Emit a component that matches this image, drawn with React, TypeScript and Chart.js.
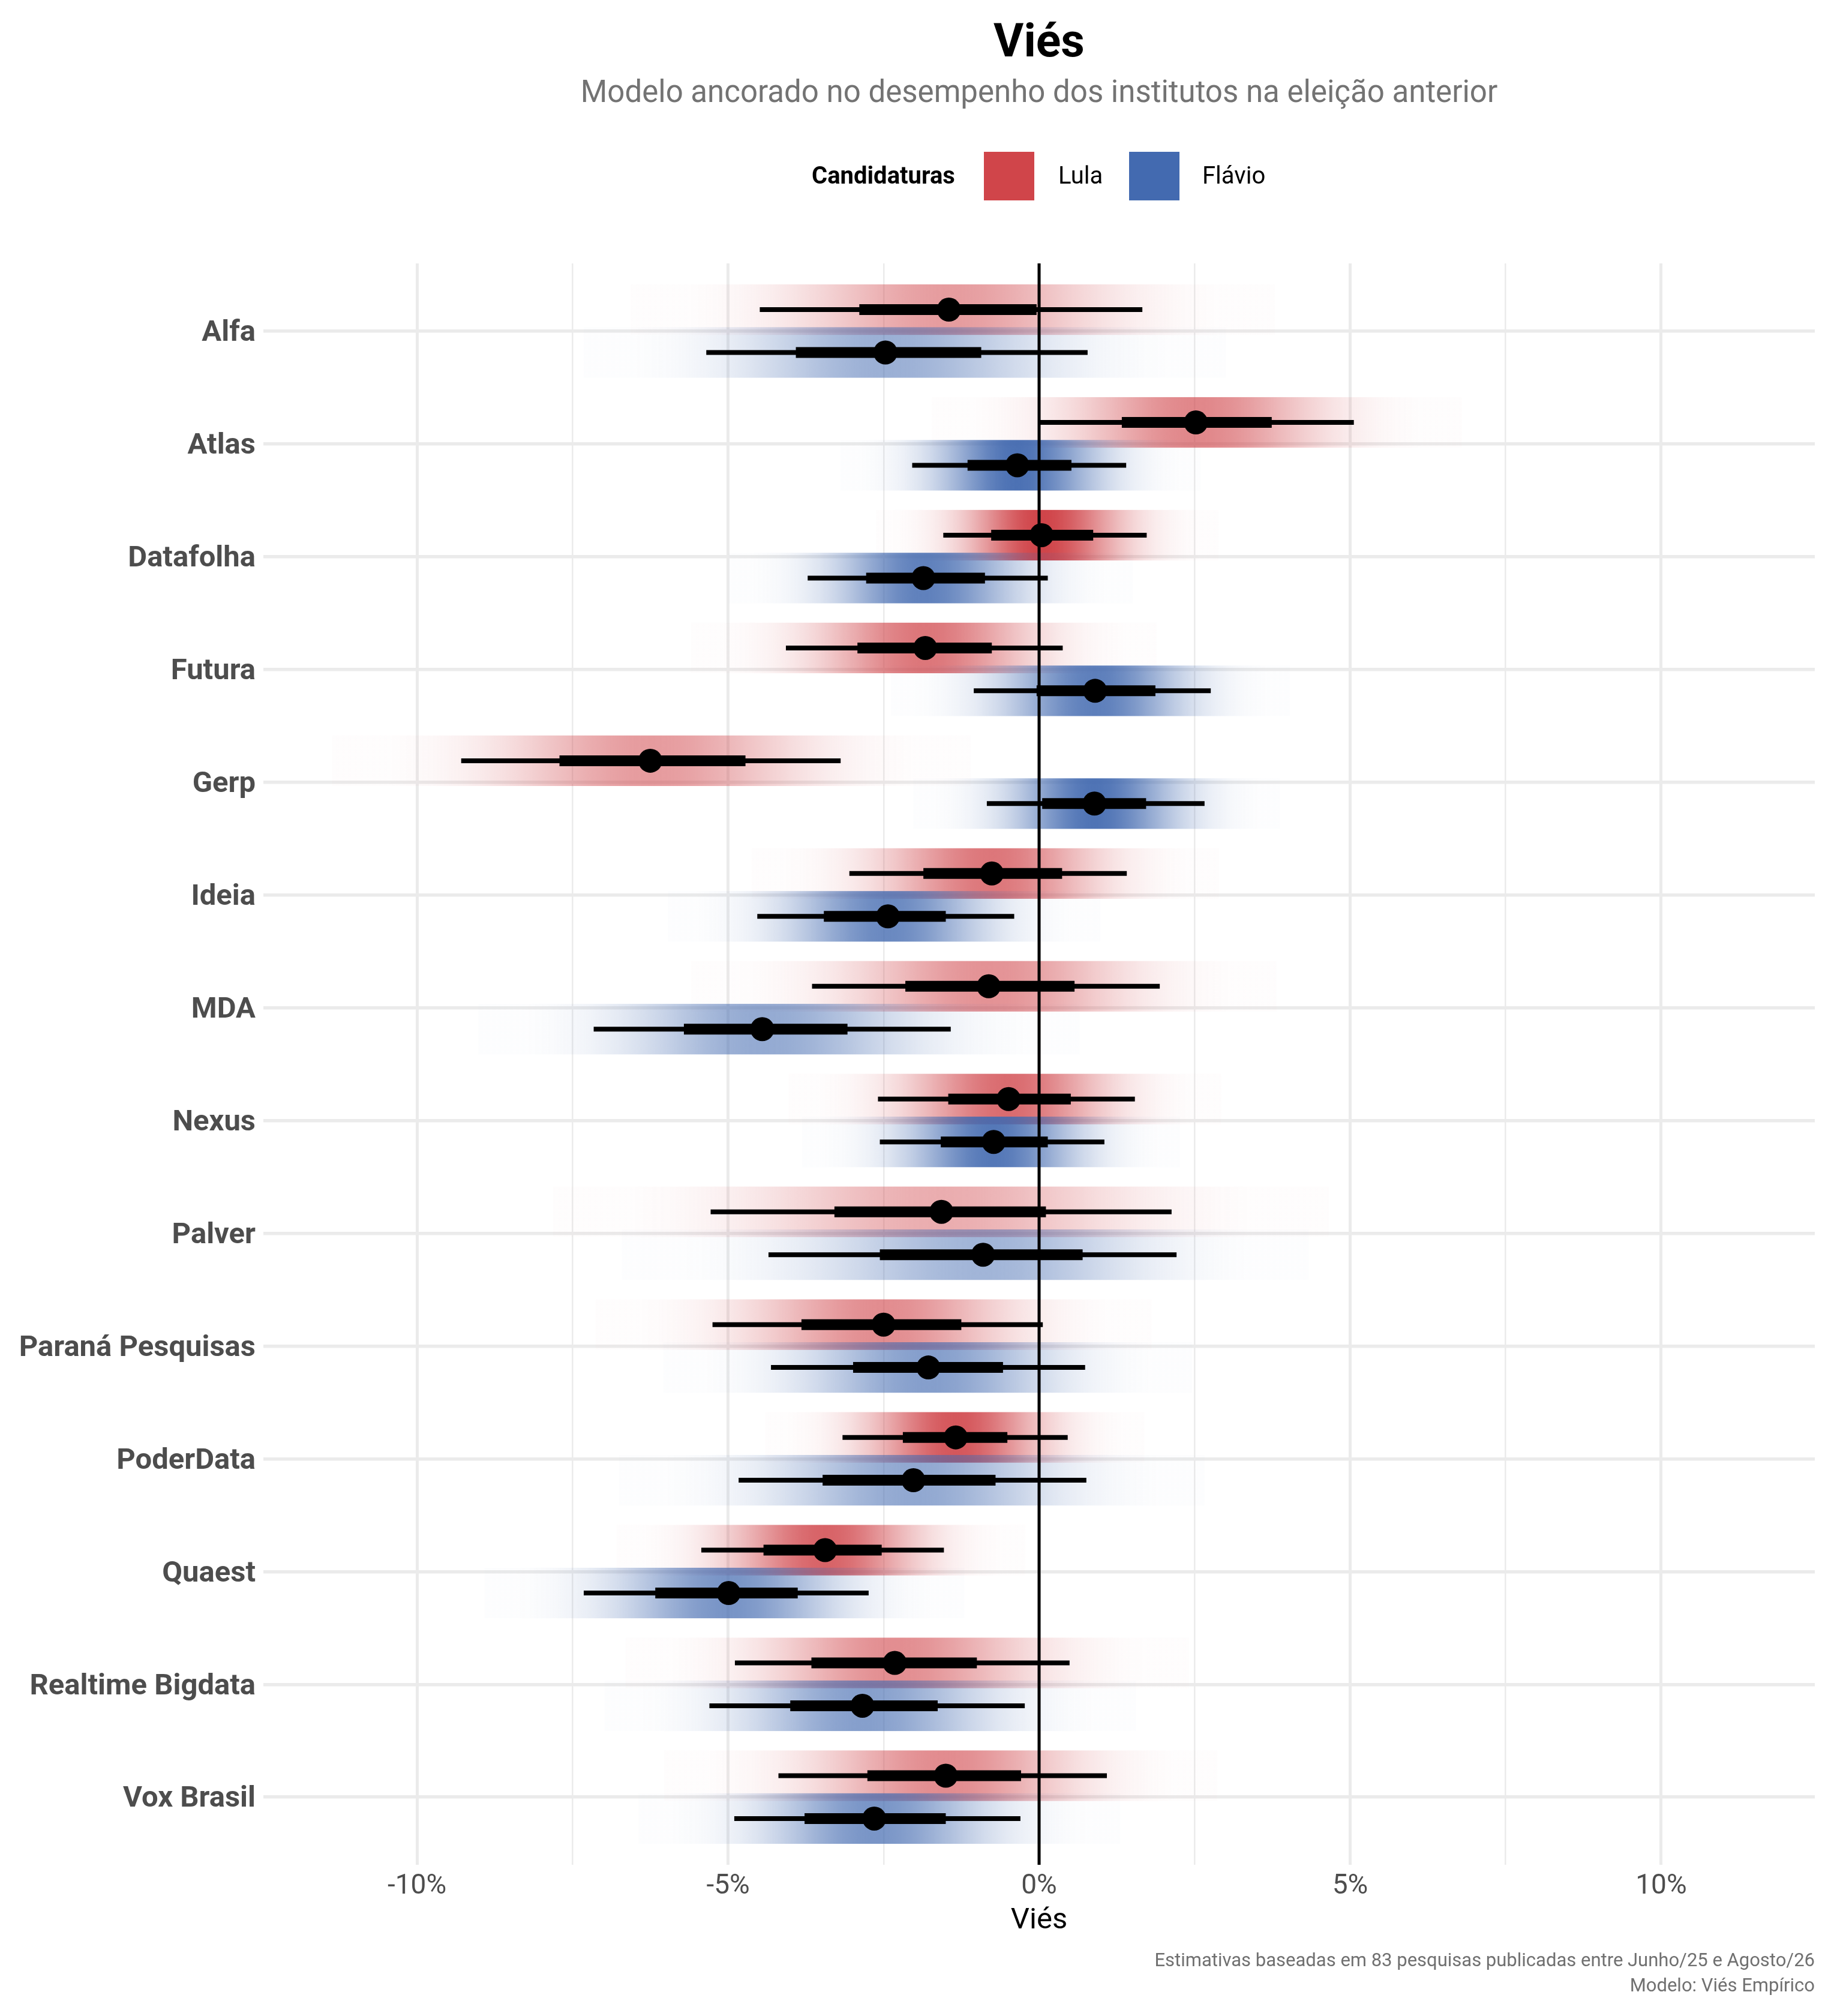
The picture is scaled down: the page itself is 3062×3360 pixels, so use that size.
import React, { useEffect, useRef } from 'react';
import { Chart, registerables } from 'chart.js';

Chart.register(...registerables);

// ---------------- DATA ----------------
const institutes = [
  'Alfa', 'Atlas', 'Datafolha', 'Futura', 'Gerp', 'Ideia', 'MDA', 'Nexus',
  'Palver', 'Paraná Pesquisas', 'PoderData', 'Quaest', 'Realtime Bigdata', 'Vox Brasil',
];

// Lula: point estimate, 66% interval, 95% interval (in %)
const lulaEst = [-1.45, 2.52, 0.04, -1.83, -6.25, -0.76, -0.81, -0.49, -1.57, -2.50, -1.34, -3.44, -2.32, -1.50];
const lulaLo66 = [-2.89, 1.33, -0.77, -2.92, -7.71, -1.86, -2.15, -1.46, -3.29, -3.82, -2.19, -4.43, -3.66, -2.76];
const lulaHi66 = [-0.04, 3.74, 0.87, -0.76, -4.72, 0.37, 0.57, 0.51, 0.11, -1.25, -0.51, -2.53, -1.00, -0.29];
const lulaLo95 = [-4.49, 0.0, -1.54, -4.07, -9.29, -3.05, -3.65, -2.59, -5.28, -5.25, -3.16, -5.43, -4.89, -4.19];
const lulaHi95 = [1.66, 5.06, 1.73, 0.38, -3.19, 1.41, 1.94, 1.54, 2.13, 0.06, 0.46, -1.53, 0.49, 1.09];

// Flávio: point estimate, 66% interval, 95% interval (in %)
const flavioEst = [-2.47, -0.35, -1.86, 0.90, 0.89, -2.43, -4.45, -0.73, -0.90, -1.78, -2.02, -4.99, -2.84, -2.65];
const flavioLo66 = [-3.91, -1.15, -2.78, -0.04, 0.05, -3.46, -5.71, -1.58, -2.56, -2.99, -3.48, -6.17, -4.00, -3.77];
const flavioHi66 = [-0.93, 0.52, -0.87, 1.87, 1.72, -1.50, -3.08, 0.14, 0.70, -0.58, -0.70, -3.88, -1.63, -1.50];
const flavioLo95 = [-5.35, -2.04, -3.72, -1.05, -0.84, -4.53, -7.16, -2.56, -4.35, -4.31, -4.83, -7.32, -5.30, -4.90];
const flavioHi95 = [0.78, 1.40, 0.14, 2.76, 2.66, -0.40, -1.42, 1.05, 2.21, 0.74, 0.76, -2.74, -0.23, -0.30];

const candidates = ['Lula', 'Flávio'];
const xTickValues = [-10, -7.5, -5, -2.5, 0, 2.5, 5, 7.5, 10];

const titleText = 'Viés';
const subtitleText = 'Modelo ancorado no desempenho dos institutos na eleição anterior';
const legendTitle = 'Candidaturas';
const xAxisTitle = 'Viés';
const captionLines = [
  'Estimativas baseadas em 83 pesquisas publicadas entre Junho/25 e Agosto/26',
  'Modelo: Viés Empírico',
];

// ---------------- STYLE / LAYOUT ----------------
const W = 3062;
const H = 3360;
const FONT = 'Roboto, "Open Sans", "DejaVu Sans", sans-serif';
const RGB: [number, number, number][] = [
  [208, 69, 74],
  [67, 106, 176],
];
const OFFSETS = [-0.19, 0.19];
const BAND_HALF = 0.224;

type Series = {
  est: number[];
  lo66: number[];
  hi66: number[];
  lo95: number[];
  hi95: number[];
};

const series: Series[] = [
  { est: lulaEst, lo66: lulaLo66, hi66: lulaHi66, lo95: lulaLo95, hi95: lulaHi95 },
  { est: flavioEst, lo66: flavioLo66, hi66: flavioHi66, lo95: flavioLo95, hi95: flavioHi95 },
];

const bandPlugin = {
  id: 'gradientBands',
  beforeDatasetsDraw(chart: any) {
    const { ctx, chartArea, scales } = chart;
    const xs = scales.x;
    const ys = scales.y;
    ctx.save();
    ctx.beginPath();
    ctx.rect(chartArea.left, chartArea.top, chartArea.right - chartArea.left, chartArea.bottom - chartArea.top);
    ctx.clip();
    let minWidth = Infinity;
    series.forEach((s) => s.est.forEach((_, i) => {
      minWidth = Math.min(minWidth, s.hi95[i] - s.lo95[i]);
    }));
    series.forEach((s, si) => {
      const [r, g, b] = RGB[si];
      s.est.forEach((e, i) => {
        const sdL = (e - s.lo95[i]) / 1.96;
        const sdR = (s.hi95[i] - e) / 1.96;
        const peak = minWidth / (s.hi95[i] - s.lo95[i]);
        const v0 = e - 3.3 * sdL;
        const v1 = e + 3.3 * sdR;
        const p0 = xs.getPixelForValue(v0);
        const p1 = xs.getPixelForValue(v1);
        const ya = ys.getPixelForValue(i + OFFSETS[si] - BAND_HALF);
        const yb = ys.getPixelForValue(i + OFFSETS[si] + BAND_HALF);
        const grad = ctx.createLinearGradient(p0, 0, p1, 0);
        const N = 90;
        for (let k = 0; k <= N; k++) {
          const v = v0 + ((v1 - v0) * k) / N;
          const z = v < e ? (v - e) / sdL : (v - e) / sdR;
          let a = peak * Math.exp(-0.5 * z * z);
          a = Math.max(a, 0.01);
          grad.addColorStop(k / N, `rgba(${r},${g},${b},${a.toFixed(4)})`);
        }
        ctx.fillStyle = grad;
        ctx.fillRect(p0, Math.min(ya, yb), p1 - p0, Math.abs(yb - ya));
      });
    });
    ctx.restore();
  },
};

const textPlugin = {
  id: 'texts',
  afterDraw(chart: any) {
    const { ctx, chartArea } = chart;
    const cx = (chartArea.left + chartArea.right) / 2;
    ctx.save();
    ctx.textAlign = 'center';
    ctx.textBaseline = 'alphabetic';
    ctx.fillStyle = '#000000';
    ctx.font = `bold 77px ${FONT}`;
    ctx.fillText(titleText, cx, 94);
    ctx.fillStyle = '#737373';
    ctx.font = `51px ${FONT}`;
    ctx.fillText(subtitleText, cx, 170);

    // legend
    const boxTop = 253;
    const boxH = 81;
    const midY = boxTop + boxH / 2;
    ctx.textBaseline = 'middle';
    ctx.textAlign = 'left';
    ctx.fillStyle = '#000000';
    ctx.font = `bold 40px ${FONT}`;
    ctx.fillText(legendTitle, 1353, midY + 2);
    const boxX = [1640, 1882];
    const labelX = [1764, 2004];
    candidates.forEach((c, k) => {
      const [r, g, b] = RGB[k];
      ctx.fillStyle = `rgb(${r},${g},${b})`;
      ctx.fillRect(boxX[k], boxTop, 84, boxH);
      ctx.fillStyle = '#000000';
      ctx.font = `40px ${FONT}`;
      ctx.fillText(c, labelX[k], midY + 2);
    });

    // axis title
    ctx.textAlign = 'center';
    ctx.textBaseline = 'alphabetic';
    ctx.fillStyle = '#000000';
    ctx.font = `49px ${FONT}`;
    ctx.fillText(xAxisTitle, cx, 3214);

    // caption
    ctx.textAlign = 'right';
    ctx.fillStyle = '#707070';
    ctx.font = `31px ${FONT}`;
    ctx.fillText(captionLines[0], chartArea.right, 3277);
    ctx.fillText(captionLines[1], chartArea.right, 3319);
    ctx.restore();
  },
};

function buildDatasets() {
  const ds: any[] = [];
  const pts: { x: number; y: number }[] = [];
  series.forEach((s, si) => s.est.forEach((e, i) => pts.push({ x: e, y: i + OFFSETS[si] })));
  ds.push({
    label: 'pontos',
    data: pts,
    showLine: false,
    pointRadius: 20,
    pointBackgroundColor: '#000000',
    pointBorderWidth: 0,
    pointHoverRadius: 20,
  });
  series.forEach((s, si) => s.est.forEach((_, i) => {
    ds.push({
      label: `${candidates[si]} 66% ${institutes[i]}`,
      data: [{ x: s.lo66[i], y: i + OFFSETS[si] }, { x: s.hi66[i], y: i + OFFSETS[si] }],
      showLine: true,
      borderColor: '#000000',
      borderWidth: 18,
      borderCapStyle: 'butt',
      pointRadius: 0,
    });
  }));
  series.forEach((s, si) => s.est.forEach((_, i) => {
    ds.push({
      label: `${candidates[si]} 95% ${institutes[i]}`,
      data: [{ x: s.lo95[i], y: i + OFFSETS[si] }, { x: s.hi95[i], y: i + OFFSETS[si] }],
      showLine: true,
      borderColor: '#000000',
      borderWidth: 8,
      borderCapStyle: 'butt',
      pointRadius: 0,
    });
  }));
  ds.push({
    label: 'zero',
    data: [{ x: 0, y: -0.6 }, { x: 0, y: institutes.length - 0.4 }],
    showLine: true,
    borderColor: '#000000',
    borderWidth: 5,
    borderCapStyle: 'butt',
    pointRadius: 0,
  });
  return ds;
}

export default function App() {
  const ref = useRef<HTMLCanvasElement>(null);
  useEffect(() => {
    document.body.style.margin = '0';
    let chart: Chart | null = null;
    let cancelled = false;
    const make = () => {
      if (cancelled || !ref.current) return;
      chart = new Chart(ref.current, {
        type: 'scatter',
        data: { datasets: buildDatasets() },
        options: {
          responsive: false,
          animation: false,
          devicePixelRatio: 1,
          events: [],
          layout: { padding: { top: 439, right: 37, left: 0, bottom: 0 } },
          plugins: {
            legend: { display: false },
            tooltip: { enabled: false },
            title: { display: false },
          },
          scales: {
            x: {
              type: 'linear',
              min: -12.47,
              max: 12.47,
              afterBuildTicks: (s: any) => {
                s.ticks = xTickValues.map((v) => ({ value: v }));
              },
              afterFit: (s: any) => {
                s.height = 252;
              },
              grid: {
                color: '#ebebeb',
                lineWidth: (c: any) => (c.tick && c.tick.value % 5 === 0 ? 5 : 2.5),
                drawTicks: false,
              },
              border: { display: false },
              ticks: {
                autoSkip: false,
                maxRotation: 0,
                padding: 9,
                color: '#4d4d4d',
                font: { family: FONT, size: 46 },
                callback: (v: any) => (Number(v) % 5 === 0 ? `${v}%` : ''),
              },
            },
            y: {
              type: 'linear',
              reverse: true,
              min: -0.6,
              max: institutes.length - 0.4,
              afterBuildTicks: (s: any) => {
                s.ticks = institutes.map((_, i) => ({ value: i }));
              },
              afterFit: (s: any) => {
                s.width = 439;
              },
              grid: { color: '#ebebeb', lineWidth: 5.5, drawTicks: false },
              border: { display: false },
              ticks: {
                autoSkip: false,
                padding: 13,
                labelOffset: 4,
                color: '#4d4d4d',
                font: { family: FONT, size: 49, weight: 'bold' },
                callback: (v: any) => institutes[Number(v)] ?? '',
              },
            },
          },
        } as any,
        plugins: [bandPlugin, textPlugin],
      });
    };
    const fonts: any = (document as any).fonts;
    if (fonts && fonts.load) {
      Promise.all([
        fonts.load(`bold 49px Roboto`),
        fonts.load(`46px Roboto`),
      ]).then(make, make);
    } else {
      make();
    }
    return () => {
      cancelled = true;
      if (chart) chart.destroy();
    };
  }, []);
  return (
    <div style={{ width: W, height: H }}>
      <canvas ref={ref} width={W} height={H} style={{ width: W, height: H, display: 'block' }} />
    </div>
  );
}
